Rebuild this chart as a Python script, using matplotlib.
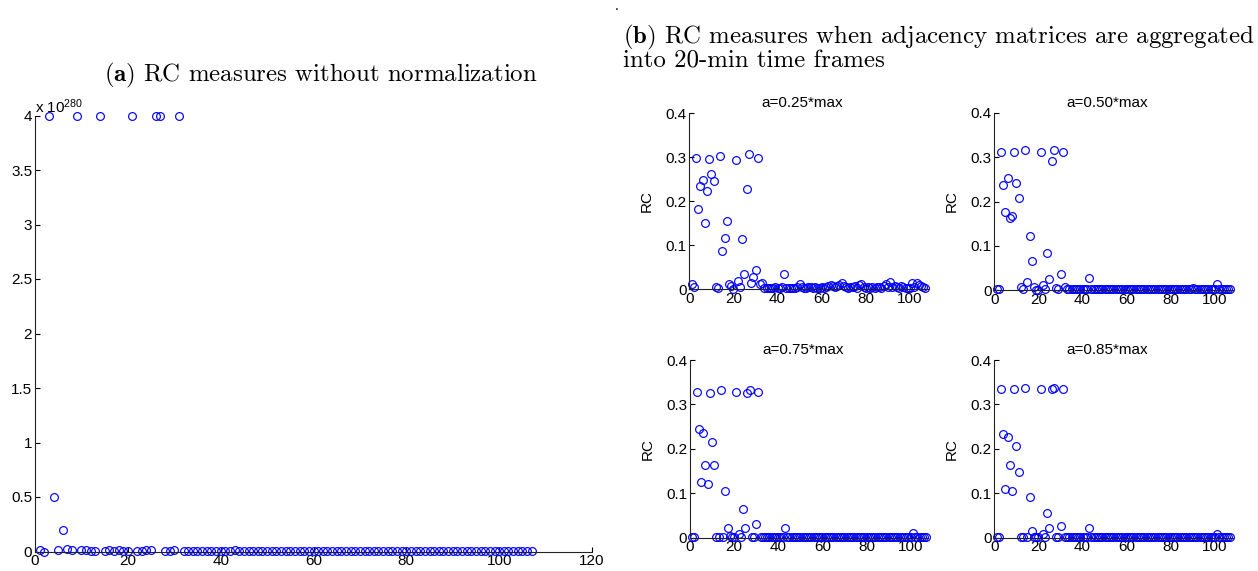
import numpy as np
import matplotlib
matplotlib.use("Agg")
import matplotlib.pyplot as plt

plt.rcParams['font.family'] = ['Liberation Sans', 'DejaVu Sans']
plt.rcParams['font.size'] = 11
plt.rcParams['mathtext.fontset'] = 'custom'
plt.rcParams['mathtext.rm'] = 'Liberation Sans'
plt.rcParams['mathtext.it'] = 'Liberation Sans:italic'
plt.rcParams['mathtext.bf'] = 'Liberation Sans:bold'

# ---------------- data ----------------
n_frames = 107
frames = list(range(1, n_frames + 1))

# (a) RC without normalization, in units of 1e280
rc_raw_scale_exp = 280
rc_raw_head = [0.015, 0.0, 4.0, 0.5, 0.01, 0.2, 0.025, 0.015, 4.0, 0.012,
               0.012, 0.004, 0.002, 4.0, 0.004, 0.015, 0.005, 0.015, 0.008, 0.003,
               4.0, 0.002, 0.004, 0.012, 0.014, 4.0, 4.0, 0.003, 0.004, 0.015,
               4.0, 0.002]
rc_raw_tail_default = 0.001
rc_raw_tail_special = {43: 0.015}

# (b) RC with 20-min aggregation, four thresholds
rc_025_head = [0.012, 0.005, 0.299, 0.182, 0.235, 0.248, 0.150, 0.223, 0.297, 0.263,
               0.246, 0.005, 0.002, 0.302, 0.086, 0.117, 0.156, 0.011, 0.008, 0.001,
               0.294, 0.018, 0.005, 0.114, 0.035, 0.227, 0.308, 0.014, 0.029, 0.043,
               0.299, 0.011, 0.014, 0.002]
rc_025_tail = [0.003, 0.002, 0.004, 0.003, 0.005, 0.004, 0.003, 0.005, 0.035, 0.004,
               0.003, 0.002, 0.003, 0.004, 0.006, 0.012, 0.005, 0.003, 0.004, 0.006,
               0.005, 0.003, 0.006, 0.004, 0.003, 0.005, 0.004, 0.006, 0.008, 0.009,
               0.007, 0.005, 0.008, 0.010, 0.014, 0.008, 0.005, 0.004, 0.006, 0.005,
               0.007, 0.004, 0.009, 0.011, 0.006, 0.004, 0.005, 0.003, 0.006, 0.004,
               0.005, 0.006, 0.004, 0.008, 0.012, 0.006, 0.017, 0.005, 0.007, 0.006,
               0.004, 0.007, 0.005, 0.003, 0.004, 0.003, 0.015, 0.006, 0.014, 0.010,
               0.007, 0.005, 0.003]

rc_050_head = [0.002, 0.002, 0.311, 0.238, 0.177, 0.254, 0.162, 0.168, 0.311, 0.241,
               0.207, 0.006, 0.002, 0.317, 0.017, 0.123, 0.066, 0.006, 0.001, 0.001,
               0.311, 0.011, 0.003, 0.083, 0.024, 0.291, 0.317, 0.004, 0.002, 0.036,
               0.311, 0.006]
rc_050_special = {43: 0.027, 90: 0.005, 101: 0.013}

rc_075_head = [0.002, 0.002, 0.329, 0.244, 0.125, 0.236, 0.164, 0.122, 0.325, 0.215,
               0.164, 0.002, 0.002, 0.332, 0.002, 0.105, 0.022, 0.003, 0.002, 0.002,
               0.328, 0.008, 0.002, 0.064, 0.022, 0.326, 0.332, 0.002, 0.002, 0.030,
               0.329, 0.002]
rc_075_special = {43: 0.022, 101: 0.010}

rc_085_head = [0.002, 0.002, 0.334, 0.234, 0.109, 0.227, 0.164, 0.105, 0.334, 0.206,
               0.147, 0.002, 0.002, 0.336, 0.002, 0.092, 0.014, 0.002, 0.002, 0.002,
               0.334, 0.008, 0.002, 0.055, 0.021, 0.334, 0.337, 0.002, 0.002, 0.027,
               0.334, 0.002]
rc_085_special = {43: 0.022, 101: 0.008}

near_zero = 0.002


def build(head, default, special):
    vals = list(head) + [default] * (n_frames - len(head))
    for k, v in special.items():
        vals[k - 1] = v
    return vals


rc_raw = build(rc_raw_head, rc_raw_tail_default, rc_raw_tail_special)
rc_025 = list(rc_025_head) + list(rc_025_tail)
rc_050 = build(rc_050_head, near_zero, rc_050_special)
rc_075 = build(rc_075_head, near_zero, rc_075_special)
rc_085 = build(rc_085_head, near_zero, rc_085_special)

panel_titles = ['a=0.25*max', 'a=0.50*max', 'a=0.75*max', 'a=0.85*max']
panel_series = [rc_025, rc_050, rc_075, rc_085]

left_xticks = [0, 20, 40, 60, 80, 100, 120]
left_yticks = [0, 0.5, 1, 1.5, 2, 2.5, 3, 3.5, 4]
left_yticklabels = ['0', '0.5', '1', '1.5', '2', '2.5', '3', '3.5', '4']
sub_xticks = [0, 20, 40, 60, 80, 100]
sub_yticks = [0, 0.1, 0.2, 0.3, 0.4]
sub_yticklabels = ['0', '0.1', '0.2', '0.3', '0.4']

# ---------------- figure ----------------
W, H = 1258, 571
fig = plt.figure(figsize=(W / 100, H / 100), dpi=100)

BLUE = '#0000ff'
mkw = dict(linestyle='none', marker='o', markerfacecolor='none',
           markeredgecolor=BLUE, markersize=5.6, markeredgewidth=0.85,
           clip_on=False)


def px_axes(x0, y0, x1, y1):
    # x0,x1 left/right px; y0 top px, y1 bottom px
    return fig.add_axes([x0 / W, 1 - y1 / H, (x1 - x0) / W, (y1 - y0) / H])


def style(ax):
    for s in ['top', 'right']:
        ax.spines[s].set_visible(False)
    for s in ['left', 'bottom']:
        ax.spines[s].set_linewidth(0.8)
        ax.spines[s].set_color('#222222')
    ax.tick_params(direction='in', length=3.5, width=0.8, pad=2,
                   labelsize=11, colors='black')


# Left panel
axL = px_axes(35, 115.5, 592, 551.5)
axL.plot(frames, rc_raw, **mkw)
axL.set_xlim(0, 120)
axL.set_ylim(0, 4)
axL.set_xticks(left_xticks)
axL.set_yticks(left_yticks)
axL.set_yticklabels(left_yticklabels)
style(axL)
axL.text(0, 1.0, r'x 10$^{%d}$' % rc_raw_scale_exp, transform=axL.transAxes,
         ha='left', va='bottom', fontsize=11)

# Right 2x2 panels
pos = [(689.3, 113.3, 289.3), (994.3, 113.0, 290.0),
       (690.0, 360.0, 537.7), (994.3, 360.0, 537.7)]
ppu = 2.207
for (x0, ytop, ybot), ttl, ser in zip(pos, panel_titles, panel_series):
    ax = px_axes(x0, ytop, x0 + 108 * ppu, ybot)
    ax.plot(frames, ser, **mkw)
    ax.set_xlim(0, 108)
    ax.set_ylim(0, 0.4)
    ax.set_xticks(sub_xticks)
    ax.set_yticks(sub_yticks)
    ax.set_yticklabels(sub_yticklabels)
    style(ax)
    ax.set_ylabel('RC', fontsize=11)
    ax.yaxis.set_label_coords(-0.148, 0.5)
    ax.set_title(ttl, fontsize=11, pad=4.5, x=0.475)

# Captions
CAP = 17.9
fig.text(321 / W, 1 - 81 / H, r'$\mathbf{(a)}$ RC measures without normalization',
         fontfamily='cmr10', math_fontfamily='cm', fontsize=CAP,
         ha='center', va='baseline')
fig.text(623 / W, 1 - 43 / H,
         r'$\mathbf{(b)}$ RC measures when adjacency matrices are aggregated',
         fontfamily='cmr10', math_fontfamily='cm', fontsize=CAP,
         ha='left', va='baseline')
fig.text(623 / W, 1 - 68 / H, 'into 20-min time frames',
         fontfamily='cmr10', math_fontfamily='cm', fontsize=CAP,
         ha='left', va='baseline')
fig.text(617 / W, 1 - 10 / H, '.', fontsize=10, ha='center', va='baseline',
         color='black')

fig.savefig('out.png', dpi=100)
